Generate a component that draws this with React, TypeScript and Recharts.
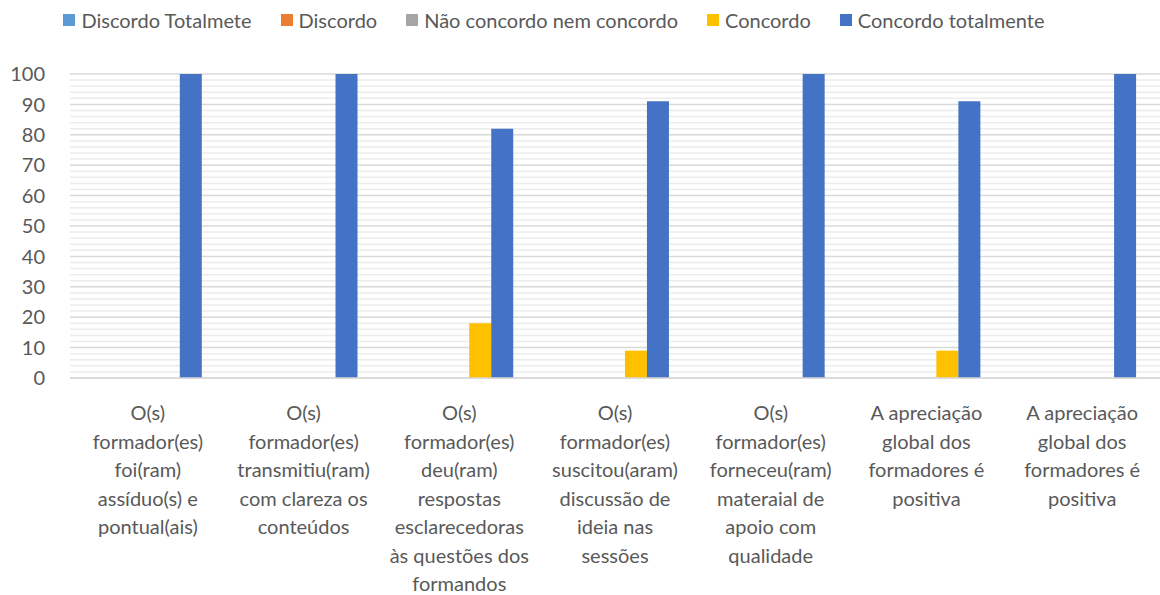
import React from "react";
import { BarChart, Bar, XAxis, YAxis, CartesianGrid, Legend } from "recharts";

// Categories (wrapped the same way as the original labels)
const categoryLines: string[][] = [
  ["O(s)", "formador(es)", "foi(ram)", "assíduo(s) e", "pontual(ais)"],
  ["O(s)", "formador(es)", "transmitiu(ram)", "com clareza os", "conteúdos"],
  ["O(s)", "formador(es)", "deu(ram)", "respostas", "esclarecedoras", "às questões dos", "formandos"],
  ["O(s)", "formador(es)", "suscitou(aram)", "discussão de", "ideia nas", "sessões"],
  ["O(s)", "formador(es)", "forneceu(ram)", "materaial de", "apoio com", "qualidade"],
  ["A apreciação", "global dos", "formadores é", "positiva"],
  ["A apreciação", "global dos", "formadores é", "positiva"],
];

const seriesNames = [
  "Discordo Totalmete",
  "Discordo",
  "Não concordo nem concordo",
  "Concordo",
  "Concordo totalmente",
];
const seriesColors = ["#5B9BD5", "#ED7D31", "#A5A5A5", "#FFC000", "#4472C4"];

const discordoTotalmete = [0, 0, 0, 0, 0, 0, 0];
const discordo = [0, 0, 0, 0, 0, 0, 0];
const naoConcordo = [0, 0, 0, 0, 0, 0, 0];
const concordo = [0, 0, 18, 9, 0, 9, 0];
const concordoTotalmente = [100, 100, 82, 91, 100, 91, 100];

const yTicks = [0, 10, 20, 30, 40, 50, 60, 70, 80, 90, 100];
const minorTicks = [
  2, 4, 6, 8, 12, 14, 16, 18, 22, 24, 26, 28, 32, 34, 36, 38, 42, 44, 46, 48,
  52, 54, 56, 58, 62, 64, 66, 68, 72, 74, 76, 78, 82, 84, 86, 88, 92, 94, 96, 98,
];

const chartData = categoryLines.map((lines, i) => ({
  key: String(i),
  s0: discordoTotalmete[i],
  s1: discordo[i],
  s2: naoConcordo[i],
  s3: concordo[i],
  s4: concordoTotalmente[i],
}));

const FONT = "Lato, 'Open Sans', sans-serif";
const TEXT = "#595959";

function CategoryTick({ x, y, payload }: any) {
  const lines = categoryLines[Number(payload.value)] || [];
  return (
    <text x={x} y={y + 40} textAnchor="middle" fill={TEXT} fontSize={20} fontFamily={FONT}>
      {lines.map((l, i) => (
        <tspan key={i} x={x} dy={i === 0 ? 0 : 28.5}>
          {l}
        </tspan>
      ))}
    </text>
  );
}

function LegendContent() {
  return (
    <div
      style={{
        display: "flex",
        justifyContent: "center",
        width: 1108,
        height: 24,
        fontFamily: FONT,
        fontSize: 20,
        color: TEXT,
      }}
    >
      {seriesNames.map((n, i) => (
        <div key={n} style={{ display: "flex", alignItems: "center", marginRight: i < 4 ? 29 : 0 }}>
          <span style={{ width: 12, height: 12, background: seriesColors[i], marginRight: 6 }} />
          <span>{n}</span>
        </div>
      ))}
    </div>
  );
}

// minor grid rows placed with the y axis scale
const minorRows = (props: any) => {
  const { yAxis, offset } = props;
  const sc = yAxis && yAxis.scale;
  return minorTicks.map((v) => {
    if (typeof sc === "function") return sc(v);
    if (sc && typeof sc.map === "function") return sc.map(v);
    return offset.top + offset.height * (1 - v / 100);
  });
};

export default function App() {
  return (
    <div style={{ position: "absolute", left: 0, top: 0, width: 1160, height: 595, background: "#fff" }}>
      <BarChart
        width={1160}
        height={595}
        data={chartData}
        margin={{ top: 50, right: 0, bottom: 0, left: 0 }}
        barGap={0}
        barCategoryGap="14%"
      >
        <CartesianGrid
          vertical={false}
          stroke="#ececec"
          strokeWidth={1.5}
          horizontalCoordinatesGenerator={minorRows}
        />
        <CartesianGrid vertical={false} stroke="#d9d9d9" strokeWidth={1.5} />
        <XAxis
          dataKey="key"
          height={217}
          interval={0}
          tickLine={false}
          tickSize={0}
          axisLine={{ stroke: "#d9d9d9", strokeWidth: 1.5 }}
          tick={<CategoryTick />}
        />
        <YAxis
          width={70}
          domain={[0, 100]}
          ticks={yTicks}
          interval={0}
          axisLine={false}
          tickLine={false}
          tickSize={0}
          tickMargin={25}
          tick={{ fill: TEXT, fontSize: 20, fontFamily: FONT }}
        />
        <Legend
          verticalAlign="top"
          content={<LegendContent />}
          wrapperStyle={{ top: 8, left: 0, width: 1108 }}
        />
        {seriesNames.map((n, i) => (
          <Bar key={n} dataKey={"s" + i} name={n} fill={seriesColors[i]} isAnimationActive={false} />
        ))}
      </BarChart>
    </div>
  );
}
